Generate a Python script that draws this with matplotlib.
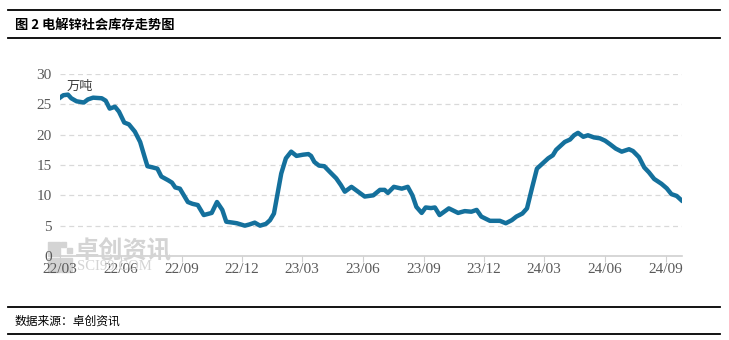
import numpy as np
import pandas as pd
import matplotlib
matplotlib.use("Agg")
import matplotlib.pyplot as plt
import matplotlib.dates as mdates
from matplotlib.patches import Rectangle

plt.rcParams['font.family'] = ['Noto Sans CJK SC', 'DejaVu Sans']

# 电解锌社会库存（万吨）
dates = [
    '2022-03-01', '2022-03-06', '2022-03-13', '2022-03-18', '2022-03-26', '2022-04-06',
    '2022-04-12', '2022-04-20', '2022-05-03', '2022-05-09', '2022-05-15', '2022-05-23',
    '2022-05-29', '2022-06-06', '2022-06-13', '2022-06-22', '2022-06-30', '2022-07-06',
    '2022-07-11', '2022-07-19', '2022-07-26', '2022-08-01', '2022-08-11', '2022-08-17',
    '2022-08-22', '2022-08-29', '2022-09-04', '2022-09-10', '2022-09-17', '2022-09-25',
    '2022-10-04', '2022-10-16', '2022-10-24', '2022-11-01', '2022-11-07', '2022-11-17',
    '2022-11-23', '2022-12-05', '2022-12-12', '2022-12-20', '2022-12-28', '2023-01-06',
    '2023-01-12', '2023-01-18', '2023-01-23', '2023-01-29', '2023-02-05', '2023-02-13',
    '2023-02-21', '2023-03-03', '2023-03-11', '2023-03-15', '2023-03-20', '2023-03-27',
    '2023-04-04', '2023-04-12', '2023-04-22', '2023-04-29', '2023-05-05', '2023-05-15',
    '2023-05-25', '2023-06-04', '2023-06-17', '2023-06-27', '2023-07-04', '2023-07-09',
    '2023-07-18', '2023-07-30', '2023-08-08', '2023-08-15', '2023-08-21', '2023-08-29',
    '2023-09-04', '2023-09-12', '2023-09-18', '2023-09-25', '2023-10-09', '2023-10-23',
    '2023-11-02', '2023-11-12', '2023-11-20', '2023-11-27', '2023-12-10', '2023-12-25',
    '2024-01-03', '2024-01-12', '2024-01-19', '2024-01-28', '2024-02-04', '2024-02-12',
    '2024-02-19', '2024-02-28', '2024-03-07', '2024-03-14', '2024-03-19', '2024-03-24',
    '2024-04-01', '2024-04-09', '2024-04-15', '2024-04-21', '2024-04-29', '2024-05-06',
    '2024-05-15', '2024-05-24', '2024-06-01', '2024-06-08', '2024-06-17', '2024-06-26',
    '2024-07-07', '2024-07-13', '2024-07-22', '2024-07-30', '2024-08-06', '2024-08-14',
    '2024-08-25', '2024-09-02', '2024-09-09', '2024-09-17', '2024-09-24',
]
stock = [
    26.1, 26.5, 26.6, 26.0, 25.5, 25.3,
    25.8, 26.1, 26.0, 25.6, 24.3, 24.6,
    23.8, 22.0, 21.7, 20.5, 18.8, 16.6,
    14.8, 14.6, 14.4, 13.1, 12.5, 12.1,
    11.3, 11.1, 10.0, 8.9, 8.6, 8.4,
    6.75, 7.1, 8.9, 7.6, 5.65, 5.5,
    5.4, 5.0, 5.2, 5.5, 5.0, 5.3,
    5.9, 7.0, 10.0, 13.6, 16.1, 17.2,
    16.5, 16.7, 16.8, 16.5, 15.5, 14.9,
    14.8, 13.9, 12.8, 11.7, 10.6, 11.4,
    10.6, 9.8, 10.0, 10.9, 10.9, 10.4,
    11.4, 11.1, 11.4, 10.0, 8.1, 7.1,
    8.0, 7.9, 8.0, 6.75, 7.85, 7.1,
    7.4, 7.3, 7.6, 6.5, 5.8, 5.8,
    5.4, 5.9, 6.5, 7.0, 7.85, 11.4,
    14.4, 15.3, 16.1, 16.6, 17.5, 18.0,
    18.8, 19.2, 19.9, 20.3, 19.65, 19.9,
    19.55, 19.4, 19.0, 18.45, 17.7, 17.2,
    17.6, 17.3, 16.3, 14.6, 13.8, 12.7,
    11.9, 11.15, 10.2, 9.9, 9.2,
]
x = pd.to_datetime(dates)

fig = plt.figure(figsize=(7.29, 3.4), dpi=100)
W, H = 729, 340

# 标题与分隔线
for yy in (10, 38, 307, 334):
    fig.add_artist(plt.Line2D([8 / W, 720 / W], [1 - yy / H, 1 - yy / H],
                              color='black', lw=1.3))
fig.text(15 / W, 1 - 25 / H, '图 2 电解锌社会库存走势图', fontsize=9.5,
         fontweight='bold', va='center', ha='left', color='black')
fig.text(15 / W, 1 - 321 / H, '数据来源：卓创资讯', fontsize=8.5,
         va='center', ha='left', color='black')

ax = fig.add_axes([60 / W, 84 / H, 622 / W, 182 / H])

# 水印
fig.text(75 / W, 1 - 251 / H, '卓创资讯', fontsize=17.5, fontweight='bold',
         color='#d4d4d4', va='center', ha='left', zorder=0)
fig.text(77 / W, 1 - 266 / H, 'SCI99.COM', fontsize=10.5, family='Liberation Serif',
         color='#d4d4d4', va='center', ha='left', zorder=0)
for (rx, ry, rw, rh) in [(48, 242, 12, 14), (61, 242, 5, 5), (67, 248, 5, 5),
                         (48, 258, 12, 14), (61, 258, 11, 14)]:
    fig.add_artist(Rectangle((rx / W, 1 - (ry + rh) / H), rw / W, rh / H,
                             color='#d4d4d4', zorder=0))

ax.plot(x, stock, color='#14709c', lw=3.2, solid_joinstyle='round')

ax.set_xlim(pd.Timestamp('2022-03-01'), pd.Timestamp('2024-09-25'))
ax.set_ylim(0, 30)
ax.set_yticks(np.arange(0, 31, 5))
ax.xaxis.set_major_locator(mdates.MonthLocator(bymonth=[3, 6, 9, 12]))
ax.xaxis.set_major_formatter(mdates.DateFormatter('%y/%m'))

ax.grid(axis='y', color='#d9d9d9', linestyle=(0, (4, 3)), lw=0.9)
ax.set_axisbelow(True)
for s in ('top', 'right', 'left'):
    ax.spines[s].set_visible(False)
ax.spines['bottom'].set_color('#d0d0d0')
ax.spines['bottom'].set_linewidth(1.2)
ax.tick_params(axis='y', length=0, pad=6, labelsize=11, labelcolor='#595959')
ax.tick_params(axis='x', length=4, color='#d0d0d0', pad=1, labelsize=11,
               labelcolor='#595959')
for lab in ax.get_xticklabels() + ax.get_yticklabels():
    lab.set_family('Liberation Serif')
ax.patch.set_alpha(0)

ax.text(0.01, 0.93, '万吨', transform=ax.transAxes, fontsize=9.5,
        color='#404040', va='center', ha='left')

fig.savefig('out.png', dpi=100)
